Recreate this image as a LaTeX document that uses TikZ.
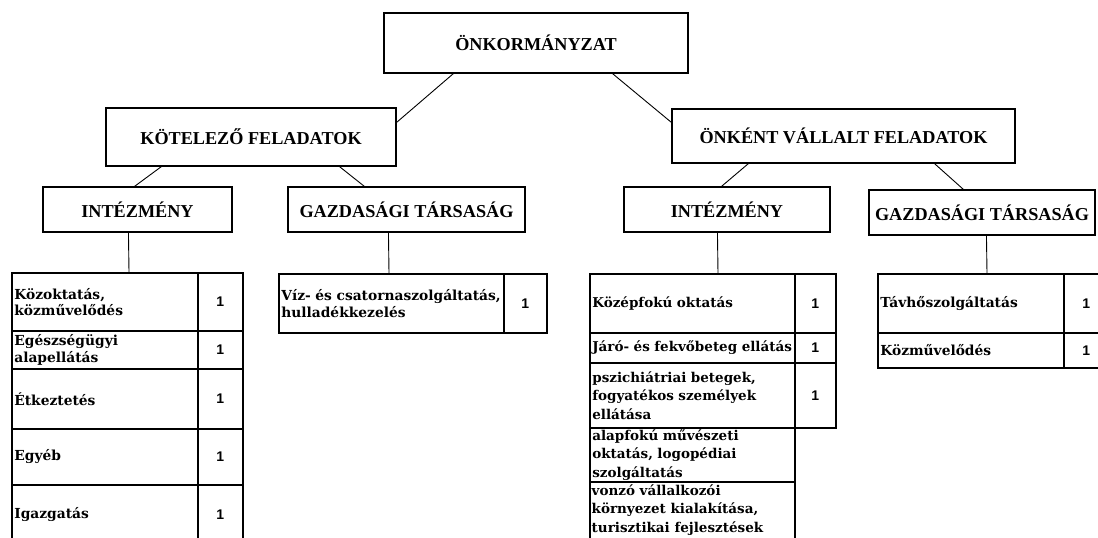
\documentclass[tikz,border=0pt]{standalone}
\usepackage{fontspec}
\setmainfont{Liberation Serif}
\newfontfamily\cellfont{DejaVu Serif}
\newfontfamily\numfont{Liberation Sans}
\usetikzlibrary{calc}
\tikzset{
  hbox/.style={draw, line width=1.1pt, rectangle, inner sep=0pt, font=\bfseries\fontsize{18.2}{21}\selectfont},
  cell/.style={draw, line width=1.7pt, rectangle, anchor=north west, inner xsep=2.5pt, inner ysep=0pt, align=left, font=\cellfont\bfseries\fontsize{13.8}{16.5}\selectfont},
  wide/.style={font=\cellfont\bfseries\fontsize{13.5}{18.5}\selectfont},
  numcell/.style={draw, line width=1.7pt, rectangle, anchor=north west, inner sep=0pt, font=\numfont\bfseries\fontsize{14}{16}\selectfont},
  celltext/.style={anchor=north west, inner xsep=2.5pt, inner ysep=3pt, align=left, font=\cellfont\bfseries\fontsize{13.5}{18.5}\selectfont},
  conn/.style={line width=0.9pt}
}
\begin{document}
\begin{tikzpicture}[x=1pt,y=-1pt]
\useasboundingbox (0,0) rectangle (1098,538);
% header boxes
\node[hbox, minimum width=304, minimum height=60] (top) at (536,43) {ÖNKORMÁNYZAT};
\node[hbox, minimum width=290, minimum height=58] (kot) at (251,137) {KÖTELEZŐ FELADATOK};
\node[hbox, minimum width=343, minimum height=54] (onk) at (843.5,136) {ÖNKÉNT VÁLLALT FELADATOK};
\node[hbox, minimum width=189, minimum height=45] (intl) at (137.5,209.5) {INTÉZMÉNY};
\node[hbox, minimum width=237, minimum height=45] (gazl) at (406.5,209.5) {GAZDASÁGI TÁRSASÁG};
\node[hbox, minimum width=206, minimum height=45] (intr) at (727,209.5) {INTÉZMÉNY};
\node[hbox, minimum width=226, minimum height=45] (gazr) at (982,212.5) {GAZDASÁGI TÁRSASÁG};

% left table
\node[cell, text width=181, minimum height=58] (l1) at (11,272) {Közoktatás,\\közművelődés};
\node[numcell, minimum width=45, minimum height=58] (l1n) at (197,272) {1};
\node[cell, text width=181, minimum height=38] (l2) at (11,330) {Egészségügyi\\alapellátás};
\node[numcell, minimum width=45, minimum height=38] (l2n) at (197,330) {1};
\node[cell, text width=181, minimum height=60] (l3) at (11,368) {Étkeztetés};
\node[numcell, minimum width=45, minimum height=60] (l3n) at (197,368) {1};
\node[cell, text width=181, minimum height=56] (l4) at (11,428) {Egyéb};
\node[numcell, minimum width=45, minimum height=56] (l4n) at (197,428) {1};
\node[cell, text width=181, minimum height=60] (l5) at (11,484) {Igazgatás};
\node[numcell, minimum width=45, minimum height=60] (l5n) at (197,484) {1};

% middle table
\node[cell, text width=220, minimum height=59] (m1) at (278,273) {Víz- és csatornaszolgáltatás,\\hulladékkezelés};
\node[numcell, minimum width=43, minimum height=59] (m1n) at (503,273) {1};

% right institution table
\node[cell, wide, text width=200, minimum height=59] (r1) at (589,273) {Középfokú oktatás};
\node[numcell, minimum width=41, minimum height=59] (r1n) at (794,273) {1};
\node[cell, wide, text width=200, minimum height=30] (r2) at (589,332) {Járó- és fekvőbeteg ellátás};
\node[numcell, minimum width=41, minimum height=30] (r2n) at (794,332) {1};
\node[cell, wide, text width=200, minimum height=65] (r3) at (589,362) {pszichiátriai betegek,\\fogyatékos személyek\\ellátása};
\node[numcell, minimum width=41, minimum height=65] (r3n) at (794,362) {1};
\node[cell, wide, text width=200, minimum height=54] (r4) at (589,427) {alapfokú művészeti\\oktatás, logopédiai\\szolgáltatás};
\node[cell, text width=200, minimum height=80] (r5) at (589,481) {};
\node[celltext] (r5t) at (r5.north west) {vonzó vállalkozói\\környezet kialakítása,\\turisztikai fejlesztések};

% right company table
\node[cell, text width=181, minimum height=59] (g1) at (877,273) {Távhőszolgáltatás};
\node[numcell, minimum width=45, minimum height=59] (g1n) at (1063,273) {1};
\node[cell, text width=181, minimum height=35] (g2) at (877,332) {Közművelődés};
\node[numcell, minimum width=45, minimum height=35] (g2n) at (1063,332) {1};

% connectors
\draw[conn] ($(top.south west)+(70,0)$) -- ($(kot.north east)+(0,15)$);
\draw[conn] ($(top.south west)+(229,0)$) -- ($(onk.north west)+(0,14)$);
\draw[conn] ($(kot.south west)+(56,0)$) -- ($(intl.north west)+(92,0)$);
\draw[conn] ($(kot.south west)+(234,0)$) -- ($(gazl.north west)+(77,0)$);
\draw[conn] ($(onk.south west)+(77,0)$) -- ($(intr.north west)+(98,0)$);
\draw[conn] ($(onk.south west)+(263,0)$) -- ($(gazr.north west)+(95,0)$);
\draw[conn] ($(intl.south west)+(86,0)$) -- ($(l1.north west)+(118,0)$);
\draw[conn] ($(gazl.south west)+(101,0)$) -- ($(m1.north west)+(111,0)$);
\draw[conn] ($(intr.south west)+(94,0)$) -- ($(r1.north west)+(129,0)$);
\draw[conn] ($(gazr.south west)+(118,0)$) -- ($(g1.north west)+(110,0)$);
\end{tikzpicture}
\end{document}
